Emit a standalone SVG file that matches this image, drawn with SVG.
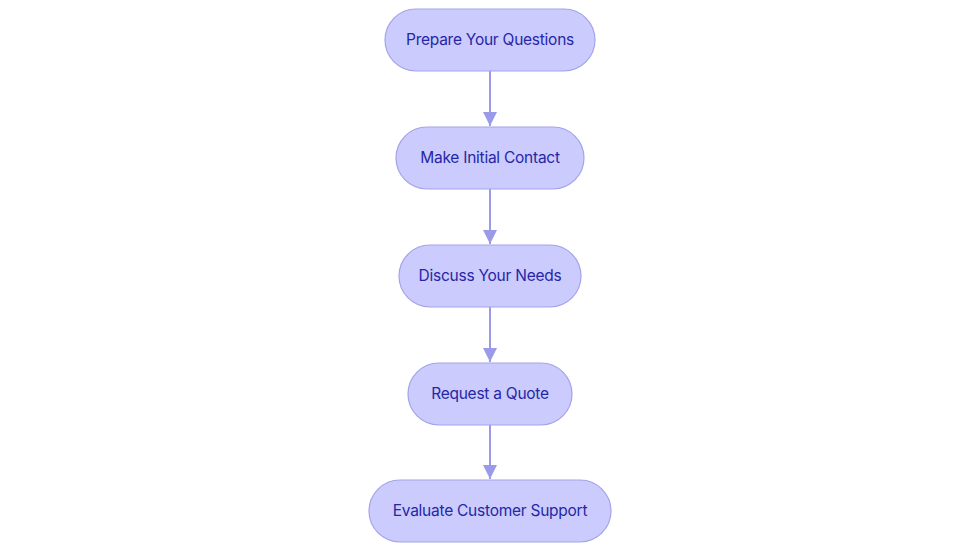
<svg xmlns="http://www.w3.org/2000/svg" width="980" height="553" viewBox="0 0 980 553">
<style>
.node rect{fill:#cbcbfd;stroke:#a3a3ea;stroke-width:1.2}
.node text{font-family:Inter,"Noto Sans",sans-serif;font-size:15.5px;letter-spacing:-0.25px;fill:#2626a6;text-anchor:middle;dominant-baseline:central}
.edge{stroke:#9a9ae8;stroke-width:2;fill:none}
</style>
<defs>
<marker id="arr" viewBox="0 0 10 10" refX="10" refY="5" markerWidth="7" markerHeight="7" markerUnits="strokeWidth" orient="auto">
<path d="M0,0L10,5L0,10z" fill="#9a9ae8"/>
</marker>
</defs>
<rect width="980" height="553" fill="#ffffff"/>
<g id="connectors">
<line class="edge" x1="490" y1="71" x2="490" y2="126" marker-end="url(#arr)"/>
<line class="edge" x1="490" y1="189" x2="490" y2="244" marker-end="url(#arr)"/>
<line class="edge" x1="490" y1="307" x2="490" y2="362" marker-end="url(#arr)"/>
<line class="edge" x1="490" y1="425" x2="490" y2="479" marker-end="url(#arr)"/>
</g>
<g id="n1" class="node"><rect x="385" y="9" width="210" height="62" rx="31"/><text x="490" y="39">Prepare Your Questions</text></g>
<g id="n2" class="node"><rect x="396" y="127" width="188" height="62" rx="31"/><text x="490" y="157">Make Initial Contact</text></g>
<g id="n3" class="node"><rect x="399" y="245" width="182" height="62" rx="31"/><text x="490" y="275">Discuss Your Needs</text></g>
<g id="n4" class="node"><rect x="408" y="363" width="164" height="62" rx="31"/><text x="490" y="393">Request a Quote</text></g>
<g id="n5" class="node"><rect x="369" y="480" width="242" height="62" rx="31"/><text x="490" y="510">Evaluate Customer Support</text></g>
</svg>
